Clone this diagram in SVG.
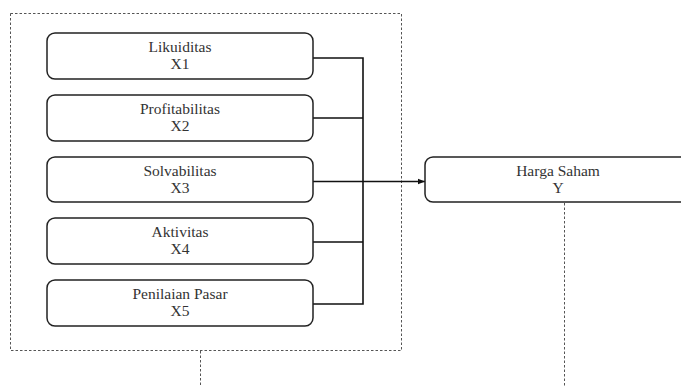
<svg xmlns="http://www.w3.org/2000/svg" width="681" height="387" viewBox="0 0 681 387">
<style>
.box{fill:#fff;stroke:#222;stroke-width:1.5}
.dash{fill:none;stroke:#555;stroke-width:1;stroke-dasharray:2.5,2}
.conn{fill:none;stroke:#111;stroke-width:1.6}
text{font-size:15.5px;fill:#333;text-anchor:middle}
</style>
<defs>
<marker id="arr" viewBox="0 0 10 10" refX="10" refY="5" markerWidth="7" markerHeight="7" markerUnits="userSpaceOnUse" orient="auto">
<path d="M0,1 L10,5 L0,9 z" fill="#111"/>
</marker>
</defs>
<rect id="group" class="dash" x="10.5" y="13.5" width="391" height="337"/>
<g id="connectors">
<path class="conn" d="M313,58 H363 M313,118 H363 M313,242 H363 M313,304 H363 M363,57.2 V304.8"/>
<path class="conn" d="M313,181.5 H425" marker-end="url(#arr)"/>
<path class="dash" d="M200.5,351 V387 M564.5,203 V387"/>
</g>
<g font-family="Liberation Serif, Times New Roman, DejaVu Serif, serif">
<g id="x1"><rect class="box" x="47" y="33" width="266" height="46" rx="8"/><text x="180" y="52">Likuiditas</text><text x="180" y="69">X1</text></g>
<g id="x2"><rect class="box" x="47" y="95" width="266" height="46" rx="8"/><text x="180" y="114">Profitabilitas</text><text x="180" y="131">X2</text></g>
<g id="x3"><rect class="box" x="47" y="157" width="266" height="45" rx="8"/><text x="180" y="176">Solvabilitas</text><text x="180" y="193">X3</text></g>
<g id="x4"><rect class="box" x="47" y="218" width="266" height="46" rx="8"/><text x="180" y="237">Aktivitas</text><text x="180" y="254">X4</text></g>
<g id="x5"><rect class="box" x="47" y="280" width="266" height="46" rx="8"/><text x="180" y="299">Penilaian Pasar</text><text x="180" y="316">X5</text></g>
<g id="y"><rect class="box" x="425" y="157" width="266" height="45" rx="8"/><text x="558" y="176">Harga Saham</text><text x="558" y="193">Y</text></g>
</g>
</svg>
